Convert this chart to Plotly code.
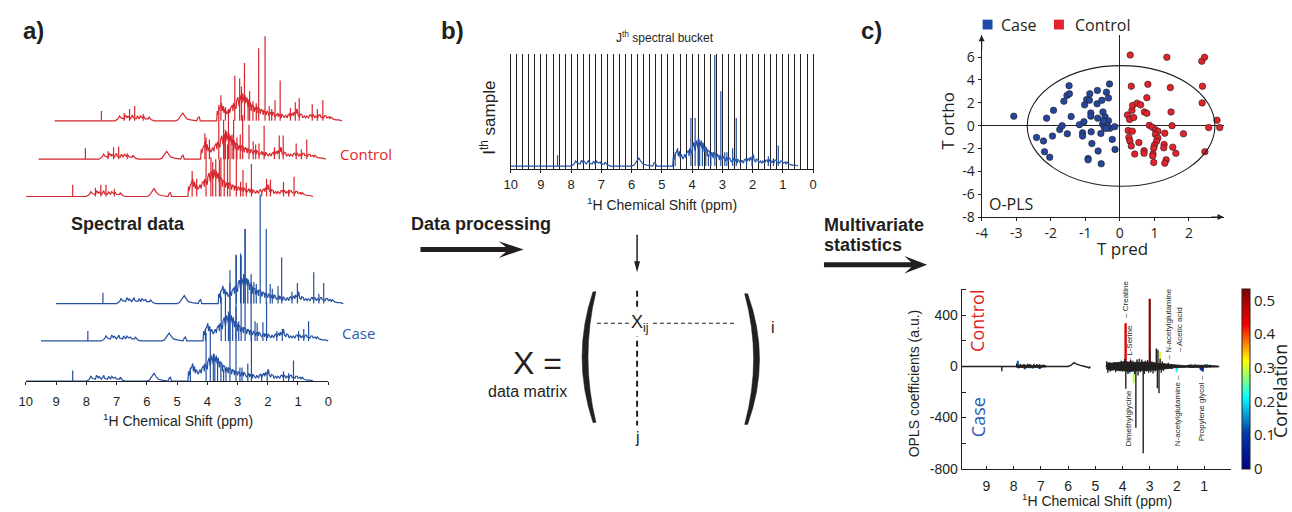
import plotly.graph_objects as go

W, H = 1292, 512
def fx(p): return p / W
def fy(p): return 1 - p / H

INK = '#231f20'
RED = '#d7262d'
BLUE = '#2350a2'
RED_T = '#e31f26'
BLUE_T = '#2b5cb0'
SANS = 'Liberation Sans, Arial, sans-serif'
MYR = 'Open Sans, Noto Sans, sans-serif'

# ---------------- shared NMR profile (ppm, a.u.) ----------------
ENV_PPM = [10.0, 8.00, 7.90, 7.80, 7.70, 7.60, 7.50, 7.40, 7.30, 7.20,
           7.10, 7.00, 6.90, 6.80, 6.70, 6.00, 5.92, 5.85, 5.80, 5.76,
           5.70, 5.62, 5.50, 5.30, 5.26, 5.22, 5.18, 4.70, 4.64, 4.60,
           4.56, 4.52, 4.46, 4.40, 4.30, 4.20, 4.10, 4.00, 3.90, 3.80,
           3.74, 3.68, 3.60, 3.50, 3.40, 3.30, 3.20, 3.10, 3.00, 2.90,
           2.80, 2.70, 2.60, 2.50, 2.40, 2.30, 2.20, 2.10, 2.05, 2.00,
           1.95, 1.90, 1.80, 1.70, 1.60, 1.50, 1.40, 1.30, 1.20, 1.10,
           1.00, 0.90, 0.80, 0.70, 0.60, 0.50]
ENV_H = [0, 0, 2, 3, 2, 3, 2, 3, 2, 2,
         3, 2, 2, 1, 0, 0, 1, 4, 7, 8,
         5, 2, 1, 0, 3, 4, 0, 0, 0, 6,
         12, 14, 10, 8, 7, 8, 10, 12, 15, 18,
         20, 18, 14, 10, 9, 8, 7, 6, 6, 5,
         5, 4, 4, 3, 3, 3, 4, 5, 7, 8,
         6, 4, 3, 3, 3, 4, 3, 3, 4, 3,
         3, 2, 2, 1, 1, 0]
FUZZ_PPM = [7.85, 7.66, 7.58, 7.42, 7.26, 7.16, 7.04, 6.88, 4.62, 4.48,
            4.42, 4.36, 4.24, 4.18, 4.12, 4.08, 3.98, 3.94, 3.86, 3.78,
            3.70, 3.64, 3.58, 3.52, 3.48, 3.42, 3.36, 3.30, 3.22, 3.16,
            3.12, 3.08, 2.98, 2.95, 2.86, 2.80, 2.76, 2.62, 2.58, 2.50,
            2.46, 2.36, 2.28, 2.24, 2.14, 2.08, 2.00, 1.97, 1.88, 1.82,
            1.74, 1.66, 1.56, 1.52, 1.44, 1.36, 1.26, 1.22, 1.08, 1.02,
            0.92, 0.86]
FUZZ_H = [5, 6, 5, 6, 5, 5, 4, 4, 10, 18,
          15, 12, 12, 13, 16, 18, 20, 24, 26, 28,
          26, 24, 20, 18, 16, 15, 14, 14, 12, 12,
          10, 11, 10, 9, 9, 9, 8, 8, 7, 7,
          6, 6, 6, 7, 8, 9, 12, 11, 7, 6,
          5, 5, 6, 6, 6, 5, 6, 6, 5, 5,
          4, 4]

# Case (blue) spectra peaks
B_PPM = [8.45, 4.56, 4.04, 3.90, 3.80, 3.75, 3.66, 3.55, 3.46, 3.38, 3.25,
         3.05, 2.92, 2.85, 2.66, 2.54, 2.20, 2.02, 1.48, 1.31, 1.15]
B_H_BOTTOM = [11, 14, 49, 49, 28, 23, 20, 18, 12, 14, 113, 76, 14, 14, 18, 49, 7, 10, 10, 8, 21]
B_H_MIDDLE = [10, 12, 45, 50, 30, 59, 22, 88, 20, 87, 114, 60, 20, 18, 19, 40, 10, 12, 10, 12, 20]
B_H_TOP = [11, 12, 49, 51, 30, 76, 25, 30, 22, 20, 111, 76, 20, 15, 18, 47, 12, 21, 32, 10, 21]
B_SHIFT = [0.0, 0.5, 1.0]
B_OFFSET = [0, 41, 79]

# Control (red) spectra peaks
R_PPM = [8.45, 7.70, 7.52, 7.35, 7.07, 4.50, 4.35, 4.04, 3.88, 3.82, 3.72, 3.60, 3.55, 3.44,
         3.33, 3.25, 3.04, 2.90, 2.82, 2.71, 2.54, 2.20, 2.04, 1.91, 1.48, 1.31, 1.13]
R_H_TOP = [10, 8, 12, 15, 7, 26, 14, 46, 43, 35, 59, 22, 30, 20, 18, 74, 86, 15, 12, 21, 41, 13, 19, 23, 17, 12, 21]
R_H_MIDDLE = [11, 8, 12, 13, 6, 26, 20, 55, 40, 30, 50, 25, 40, 22, 25, 45, 35, 18, 15, 16, 34, 12, 24, 24, 16, 10, 20]
R_H_BOTTOM = [12, 9, 12, 12, 8, 26, 18, 60, 40, 35, 38, 38, 40, 60, 53, 60, 50, 15, 27, 14, 33, 5, 18, 17, 15, 7, 20]
R_SHIFT = [0.0, 0.42, 0.95]
R_OFFSET = [188, 226, 265]

PPM_TICKS = [0, 1, 2, 3, 4, 5, 6, 7, 8, 9, 10]

# ---------------- O-PLS scores ----------------
CASE_TPRED = [-3.07, -2.41, -2.21, -2.18, -2.03, -2.12, -1.92, -1.95, -1.74, -1.67, -1.62, -1.53, -1.46,
              -1.47, -1.41, -1.52, -1.17, -1.08, -1.08, -1.04, -1.02, -0.96, -0.88, -0.87, -0.84, -0.84,
              -0.83, -0.81, -0.92, -0.92, -0.66, -0.65, -0.64, -0.63, -0.54, -0.55, -0.50, -0.49, -0.52,
              -0.43, -0.39, -0.33, -0.30, -0.33, -0.37, -0.45, -0.29, -0.22, -0.15, -0.14, -0.47, -0.40]
CASE_TORTHO = [0.83, -1.03, -1.34, -2.28, -2.76, 0.66, 1.34, -0.91, -0.34, 0.00, 2.14, 2.65, 2.79,
               3.50, 0.80, -0.71, 0.09, -0.63, -0.91, 0.34, 1.82, 2.28, 2.22, 2.79, 1.11, 0.83,
               -0.54, -1.57, -2.88, -2.99, 1.91, 3.08, 0.66, -2.22, -3.33, -0.68, 0.14, 1.20, 2.22,
               0.77, 2.93, 2.42, 3.65, 0.43, 0.03, -0.14, -0.23, -1.20, -0.09, -2.08, 0.40, -0.25]
CTRL_TPRED = [0.30, 0.33, 0.22, 0.28, 0.35, 0.37, 0.40, 0.24, 0.26, 0.29, 0.36, 0.33, 0.43, 0.50,
              0.60, 0.55, 0.71, 0.78, 0.78, 0.81, 0.70, 0.70, 0.85, 0.94, 1.03, 1.10, 1.03, 1.10,
              1.06, 1.00, 0.98, 0.96, 0.95, 0.98, 1.36, 1.46, 1.48, 1.51, 1.30, 1.28, 1.27, 1.34,
              1.30, 1.53, 1.62, 1.84, 2.37, 2.45, 2.39, 2.38, 2.46, 2.57, 2.81, 2.89]
CTRL_TORTHO = [6.18, 3.45, 0.94, 0.54, 1.34, 1.77, 0.71, -0.43, -1.03, -1.34, -0.48, -1.77, -2.48, 1.97,
               1.82, -1.48, 1.20, 1.08, 2.45, 3.62, -2.19, -2.42, 0.03, -0.14, -0.37, -0.48, -0.77, -1.08,
               -1.37, -1.71, -1.97, -2.48, -2.65, -3.22, 5.98, 3.33, 1.20, 0.00, -0.66, -1.65, -1.94, -2.99,
               -3.28, -1.88, -2.42, -0.71, 5.64, 5.98, 3.45, 1.99, -2.28, -0.17, 0.48, -0.17]
ELLIPSE_TPRED = [-2.68, 2.75]
ELLIPSE_TORTHO = [-5.3, 5.25]

# ---------------- OPLS coefficients ----------------
COEF_ENV_PPM = [9.90, 6.00, 5.90, 5.82, 5.78, 5.72, 5.65, 5.55, 5.45, 5.35, 5.28, 5.22, 5.18, None, 4.62, 0.45]
COEF_ENV_VAL = [0, 0, 8, 22, 30, 22, 14, 8, 4, 0, -6, -12, 0, None, 0, 0]
# noise band of the coefficient trace (upper / lower edge)
BAND_PPM = [7.90, 7.80, 7.70, 7.60, 7.50, 7.40, 7.30, 7.20, 7.10, 7.00, 6.90, 6.80,
            4.60, 4.50, 4.40, 4.30, 4.20, 4.10, 4.00, 3.90, 3.80, 3.70, 3.60, 3.50, 3.40,
            3.30, 3.20, 3.10, 3.00, 2.90, 2.80, 2.70, 2.60, 2.50, 2.40, 2.30, 2.20, 2.10,
            2.00, 1.90, 1.80, 1.70, 1.60, 1.50, 1.40, 1.30, 1.20, 1.10, 1.00, 0.90, 0.80,
            0.70, 0.60, 0.50]
BAND_HI = [8, 10, 8, 12, 9, 12, 8, 10, 12, 9, 8, 4,
           22, 30, 26, 28, 32, 30, 35, 38, 34, 36, 30, 34, 32,
           30, 34, 32, 30, 28, 30, 26, 24, 22, 18, 14, 12, 10,
           10, 8, 6, 6, 8, 10, 10, 12, 10, 9, 10, 10, 8,
           6, 5, 3]
BAND_LO = [-6, -8, -10, -8, -10, -8, -10, -8, -9, -10, -6, -3,
           -20, -28, -30, -26, -30, -34, -32, -36, -40, -38, -34, -36, -32,
           -34, -30, -32, -30, -28, -26, -28, -24, -20, -16, -14, -12, -10,
           -8, -8, -6, -6, -6, -8, -8, -8, -10, -8, -8, -8, -6,
           -5, -4, -3]
COEF_PPM = [8.43, 7.88, 7.82, 7.75, 7.62, 7.55, 7.48, 7.40, 7.33, 7.25, 7.15, 7.05, 6.98, 6.90, 6.85,
            4.58, 4.54, 4.50, 4.45, 4.40, 4.35, 4.30, 4.25, 4.20, 4.15, 4.10, 4.05, 4.00, 3.96, 3.92,
            3.88, 3.85, 3.80, 3.70, 3.66, 3.62, 3.55, 3.51, 3.47, 3.43, 3.39, 3.35, 3.30, 3.27, 3.24,
            3.20, 3.16, 3.12, 3.08, 3.04, 3.00, 2.96, 2.92, 2.88, 2.84, 2.80, 2.76, 2.72, 2.70, 2.66,
            2.62, 2.58, 2.54, 2.50, 2.46, 2.42, 2.38, 2.32, 2.27, 2.22, 2.16, 2.10, 2.04, 1.98, 1.92,
            1.86, 1.80, 1.72, 1.65, 1.58, 1.52, 1.46, 1.40, 1.34, 1.28, 1.22, 1.16, 1.10, 1.04, 0.98,
            0.92, 0.86, 0.80, 0.74, 0.68, 0.62, 0.56, 0.50]
COEF_VAL = [-38, 25, -15, 20, 18, -12, 22, 20, -10, 22, 20, 18, -8, 15, 10,
            40, -50, 30, -40, 25, -30, 35, -45, 30, 20, -35, 45, -40, 35, 60,
            -175, 40, -60, 50, -40, 45, -60, -480, 55, -70, 60, -45, 55, 40, -680,
            -60, 45, -40, 50, -50, 125, -45, 40, -55, 35, -40, 140, -170, 130, -210,
            60, -50, 40, -35, 25, -20, 20, 30, -15, 15, -12, 12, -10, 10, -8,
            8, 6, -6, 8, 12, -10, 15, -12, 18, -10, 12, -15, 10, -8, 15,
            -12, 10, -8, 6, 5, -5, 4, 3]
SIG_PPM = [3.90, 3.01, 2.64, 3.59, 3.76, 3.72, 2.02, 1.07, 1.12, 2.20, 2.35, 2.42, 0.90, 0.80,
           7.85, 7.60, 7.30, 7.05, 1.55, 3.34, 2.86]
SIG_VAL = [338, 531, 115, -131, -54, -35, -45, -40, -30, -20, -18, 15, 20, 12,
           45, -22, -18, -20, 15, 30, 20]
SIG_CORR = [0.45, 0.53, 0.30, 0.29, 0.18, 0.16, 0.22, 0.04, 0.06, 0.07, 0.10, 0.15, 0.17, 0.12,
            0.13, 0.10, 0.16, 0.08, 0.12, 0.42, 0.36]
METAB_NAMES = ['– Creatine', '– L-Serine', '– N-acetylglutamine', '– Acetic acid',
               'Dimethylglycine', 'N-acetylglutamine –', 'Propylene glycol –']
METAB_PPM = [3.90, 3.74, 2.32, 1.92, 3.76, 1.98, 1.10]
METAB_Y = [523, 177, 331, 285, -408, -346, -331]

fig = go.Figure()

def sticks(ppm, h, shift, off):
    xs, ys = [], []
    for p, v in zip(ppm, h):
        xs += [p - shift, p - shift, None]
        ys += [off, off + v, None]
    return xs, ys

# jagged baseline = envelope points merged with noise points, ordered by ppm
PROFILE = sorted(zip(ENV_PPM + FUZZ_PPM, ENV_H + FUZZ_H), key=lambda t: -t[0])

def add_spectrum(peak_ppm, peak_h, shift, off, color, xa, ya):
    fig.add_trace(go.Scatter(x=[p - shift for p, _ in PROFILE], y=[v + off for _, v in PROFILE],
                             mode='lines', line=dict(color=color, width=1.2),
                             xaxis=xa, yaxis=ya, hoverinfo='skip', showlegend=False))
    px_, py_ = sticks(peak_ppm, peak_h, shift, off)
    fig.add_trace(go.Scatter(x=px_, y=py_, mode='lines', line=dict(color=color, width=1.2),
                             xaxis=xa, yaxis=ya, hoverinfo='skip', showlegend=False))

# panel a (back to front)
for hts, k in [(R_H_TOP, 2), (R_H_MIDDLE, 1), (R_H_BOTTOM, 0)]:
    add_spectrum(R_PPM, hts, R_SHIFT[k], R_OFFSET[k], RED, 'x', 'y')
for hts, k in [(B_H_TOP, 2), (B_H_MIDDLE, 1), (B_H_BOTTOM, 0)]:
    add_spectrum(B_PPM, hts, B_SHIFT[k], B_OFFSET[k], BLUE, 'x', 'y')
fig.add_trace(go.Scatter(x=[], y=[], xaxis='x2', yaxis='y2', showlegend=False))

# panel b
add_spectrum(B_PPM, B_H_BOTTOM, 0.0, 0, BLUE, 'x5', 'y5')

# panel c scores
fig.add_trace(go.Scatter(x=CASE_TPRED, y=CASE_TORTHO, mode='markers', xaxis='x3', yaxis='y3',
                         marker=dict(size=6.5, color='#24479b', line=dict(color=INK, width=0.6)),
                         cliponaxis=False, showlegend=False))
fig.add_trace(go.Scatter(x=CTRL_TPRED, y=CTRL_TORTHO, mode='markers', xaxis='x3', yaxis='y3',
                         marker=dict(size=6.5, color='#e3232c', line=dict(color=INK, width=0.6)),
                         cliponaxis=False, showlegend=False))

# panel c coefficients
fig.add_trace(go.Scatter(x=COEF_ENV_PPM, y=COEF_ENV_VAL, mode='lines', line=dict(color=INK, width=1.4),
                         xaxis='x4', yaxis='y4', hoverinfo='skip', showlegend=False))
for seg in [(0, 12), (12, len(BAND_PPM))]:
    a, b = seg
    fig.add_trace(go.Scatter(x=BAND_PPM[a:b] + BAND_PPM[a:b][::-1],
                             y=BAND_HI[a:b] + BAND_LO[a:b][::-1], mode='lines', fill='toself',
                             fillcolor=INK, line=dict(color=INK, width=0.8),
                             xaxis='x4', yaxis='y4', hoverinfo='skip', showlegend=False))
sx, sy = sticks(COEF_PPM, COEF_VAL, 0.0, 0)
fig.add_trace(go.Scatter(x=sx, y=sy, mode='lines', line=dict(color=INK, width=1.4),
                         xaxis='x4', yaxis='y4', hoverinfo='skip', showlegend=False))
fig.add_trace(go.Bar(x=SIG_PPM, y=SIG_VAL, width=0.06, xaxis='x4', yaxis='y4', showlegend=False,
                     marker=dict(color=SIG_CORR, colorscale='Jet', cmin=0, cmax=0.535, line=dict(width=0),
                                 colorbar=dict(x=fx(1246), xanchor='left', xpad=0, y=fy(477), yanchor='bottom',
                                               ypad=0, len=183 / H, lenmode='fraction', thickness=8,
                                               thicknessmode='pixels', outlinewidth=1, outlinecolor=INK,
                                               tickvals=[0, 0.1, 0.2, 0.3, 0.4, 0.5], ticks='',
                                               tickfont=dict(family=MYR, size=15, color=INK)))))

axis_common = dict(showgrid=False, zeroline=False, linecolor=INK, tickcolor=INK,
                   tickfont=dict(family=SANS, size=13, color=INK))

layout = dict(
    width=W, height=H, autosize=False, margin=dict(l=0, r=0, t=0, b=0),
    paper_bgcolor='white', plot_bgcolor='rgba(0,0,0,0)', showlegend=False, barmode='overlay',
    font=dict(family=SANS, color=INK),
    xaxis=dict(domain=[fx(19), fx(345)], range=[10, 10 - 326 / 30.5], visible=False, anchor='y'),
    yaxis=dict(domain=[fy(388), fy(28)], range=[0, 360], visible=False, anchor='x'),
    xaxis2=dict(axis_common, domain=[fx(19), fx(324)], range=[10, 0], anchor='y2', showline=True,
                linewidth=1.4, ticks='outside', ticklen=3, tickvals=PPM_TICKS, ticklabelstandoff=5),
    yaxis2=dict(domain=[fy(388), fy(380)], range=[0, 1], visible=False, anchor='x2'),
    xaxis5=dict(axis_common, domain=[fx(508), fx(813)], range=[10, 0], anchor='y5', showline=True,
                linewidth=1.4, ticks='outside', ticklen=3, tick0=0, dtick=1,
                showgrid=True, gridcolor=INK, gridwidth=1.2,
                minor=dict(tick0=0, dtick=0.2, showgrid=True, gridcolor=INK, gridwidth=1.2, ticks='')),
    yaxis5=dict(domain=[fy(172), fy(55)], range=[-3, 114], anchor='x5', showline=True, mirror=True,
                linecolor=INK, linewidth=1.4, showticklabels=False, ticks='', showgrid=False, zeroline=False),
    xaxis3=dict(axis_common, domain=[fx(983), fx(1227)], range=[-4, 3.0], anchor='y3', showline=True,
                linewidth=1.2, ticks='outside', ticklen=3, tickvals=[-4, -3, -2, -1, 0, 1, 2],
                ticktext=['-4', '-3', '-2', '-1', '0', '1', '2'],
                zeroline=True, zerolinecolor=INK, zerolinewidth=1.2,
                tickfont=dict(family=MYR, size=14, color=INK)),
    yaxis3=dict(axis_common, domain=[fy(221), fy(36)], range=[-8, 7.9], anchor='x3', showline=True,
                linewidth=1.2, ticks='outside', ticklen=3, tickvals=[-8, -6, -4, -2, 0, 2, 4, 6],
                ticktext=['-8', '-6', '-4', '-2', '0', '2', '4', '6'],
                zeroline=True, zerolinecolor=INK, zerolinewidth=1.2,
                tickfont=dict(family=MYR, size=14, color=INK)),
    xaxis4=dict(axis_common, domain=[fx(963), fx(1235)], range=[9.9, 0], anchor='y4', showline=True,
                linewidth=1.2, ticks='inside', ticklen=3, tickvals=[9, 8, 7, 6, 5, 4, 3, 2, 1],
                ticklabelstandoff=4, tickfont=dict(family=SANS, size=14, color=INK)),
    yaxis4=dict(axis_common, domain=[fy(477), fy(294)], range=[-800, 608], anchor='x4', showline=True,
                linewidth=1.2, ticks='inside', ticklen=4,
                tickvals=[-800, -600, -400, -200, 0, 200, 400, 600],
                ticktext=['-800', '', '-400', '', '0', '', '400', ''],
                tickfont=dict(family=SANS, size=14, color=INK)),
)
fig.update_layout(**layout)

ann = []
def txt(x, y, s, size, color=INK, family=SANS, bold=False, angle=0, xanchor='center', **kw):
    if bold:
        s = '<b>' + s + '</b>'
    d = dict(x=fx(x), y=fy(y), xref='paper', yref='paper', text=s, showarrow=False,
             font=dict(size=size, color=color, family=family), textangle=angle,
             xanchor=xanchor, yanchor='middle')
    d.update(kw)
    ann.append(d)

txt(27, 31, 'a)', 24, bold=True)
txt(449, 31, 'b)', 24, bold=True)
txt(872, 31, 'c)', 24, bold=True)
txt(362, 157, 'Control', 15, RED_T, MYR)
txt(355, 339, 'Case', 15, BLUE_T, MYR)
txt(63, 228, 'Spectral data', 18, bold=True, xanchor='left')
txt(172, 428, '<sup>1</sup>H Chemical Shift (ppm)', 14)
txt(405, 228, 'Data processing', 18, bold=True, xanchor='left')
txt(664, 38, 'J<sup>th</sup> spectral bucket', 12)
txt(485, 120, 'I<sup>th</sup> sample', 17, angle=-90)
txt(661, 208, '<sup>1</sup>H Chemical Shift (ppm)', 14)
txt(535, 370, 'X =', 32)
txt(525, 399, 'data matrix', 16)
txt(638, 329, 'X<sub>ij</sub>', 18, bgcolor='white')
txt(773, 333, 'i', 16)
txt(636, 445, 'j', 16)
txt(822, 229, 'Multivariate', 18, bold=True, xanchor='left')
txt(822, 249, 'statistics', 18, bold=True, xanchor='left')
txt(1001, 25, 'Case', 16, family=MYR, xanchor='left')
txt(1075, 25, 'Control', 16, family=MYR, xanchor='left')
txt(1013, 208, 'O-PLS', 16, family=MYR)
txt(949, 123, 'T ortho', 17, family=MYR, angle=-90)
txt(1125, 253, 'T pred', 17, family=MYR)
txt(915, 390, 'OPLS coefficients (a.u.)', 14, angle=-90)
txt(1099, 509, '<sup>1</sup>H Chemical Shift (ppm)', 14)
txt(979, 327, 'Control', 18, RED_T, MYR, angle=-90)
txt(979, 425, 'Case', 18, BLUE_T, MYR, angle=-90)
txt(1284, 398, 'Correlation', 18, family=MYR, angle=-90)

for name, p, yv in zip(METAB_NAMES, METAB_PPM, METAB_Y):
    ann.append(dict(x=p, y=yv, xref='x4', yref='y4', text=name, showarrow=False, textangle=-90,
                    font=dict(size=8, color=INK, family=SANS)))

# axis arrows on score plot
ann.append(dict(x=-4, y=7.9, ax=-4, ay=6.5, xref='x3', yref='y3', axref='x3', ayref='y3', text='',
                showarrow=True, arrowhead=2, arrowsize=1, arrowwidth=1.2, arrowcolor=INK))
ann.append(dict(x=3.0, y=-8, ax=2.6, ay=-8, xref='x3', yref='y3', axref='x3', ayref='y3', text='',
                showarrow=True, arrowhead=2, arrowsize=1, arrowwidth=1.2, arrowcolor=INK))
fig.update_layout(annotations=ann)

def path(pts, close=True):
    s = 'M ' + ' L '.join(f'{fx(a):.5f},{fy(b):.5f}' for a, b in pts)
    return s + (' Z' if close else '')

shapes = []
# thick arrows
shapes.append(dict(type='path', xref='paper', yref='paper', fillcolor=INK, line=dict(width=0),
                   path=path([(417, 251.5), (503, 251.5), (496, 245.5), (521, 254), (496, 262.5),
                              (503, 256.5), (417, 256.5)])))
shapes.append(dict(type='path', xref='paper', yref='paper', fillcolor=INK, line=dict(width=0),
                   path=path([(824, 267), (912, 267), (905, 260.5), (928, 269.5), (905, 278.5),
                              (912, 272), (824, 272)])))
# small down arrow
shapes.append(dict(type='line', xref='paper', yref='paper', x0=fx(635.5), x1=fx(635.5), y0=fy(239),
                   y1=fy(268), line=dict(color=INK, width=1.5)))
shapes.append(dict(type='path', xref='paper', yref='paper', fillcolor=INK, line=dict(width=0),
                   path=path([(632.5, 266), (635.5, 277), (638.5, 266)])))
# dashed guides in matrix
shapes.append(dict(type='line', xref='paper', yref='paper', x0=fx(635.5), x1=fx(635.5), y0=fy(296),
                   y1=fy(433), line=dict(color=INK, width=2, dash='6px,4px'), layer='below'))
shapes.append(dict(type='line', xref='paper', yref='paper', x0=fx(595), x1=fx(735), y0=fy(329),
                   y1=fy(329), line=dict(color=INK, width=1.1, dash='4px,3px'), layer='below'))
# parentheses (crescents with blunt ends)
def paren(x_out_end, x_in_end, xm_out, xm_in, yt, yb):
    ym = (yt + yb) / 2
    c_out = 2 * xm_out - x_out_end
    c_in = 2 * xm_in - x_in_end
    return (f'M {fx(x_out_end):.5f},{fy(yt):.5f} Q {fx(c_out):.5f},{fy(ym):.5f} {fx(x_out_end):.5f},{fy(yb):.5f} '
            f'L {fx(x_in_end):.5f},{fy(yb):.5f} '
            f'Q {fx(c_in):.5f},{fy(ym):.5f} {fx(x_in_end):.5f},{fy(yt):.5f} Z')
shapes.append(dict(type='path', xref='paper', yref='paper', fillcolor=INK, line=dict(color=INK, width=0.5),
                   path=paren(591, 594, 580, 586, 297, 430)))
shapes.append(dict(type='path', xref='paper', yref='paper', fillcolor=INK, line=dict(color=INK, width=0.5),
                   path=paren(747, 744, 759, 753, 299, 432)))
# legend squares
shapes.append(dict(type='rect', xref='paper', yref='paper', x0=fx(984), x1=fx(994), y0=fy(30), y1=fy(20),
                   fillcolor='#1f4aa8', line=dict(width=0)))
shapes.append(dict(type='rect', xref='paper', yref='paper', x0=fx(1056), x1=fx(1066), y0=fy(30), y1=fy(20),
                   fillcolor='#e3232c', line=dict(width=0)))
# 95% ellipse
shapes.append(dict(type='circle', xref='x3', yref='y3', x0=ELLIPSE_TPRED[0], x1=ELLIPSE_TPRED[1],
                   y0=ELLIPSE_TORTHO[0], y1=ELLIPSE_TORTHO[1], line=dict(color=INK, width=1.1)))
fig.update_layout(shapes=shapes)

fig.write_html('out.html')
